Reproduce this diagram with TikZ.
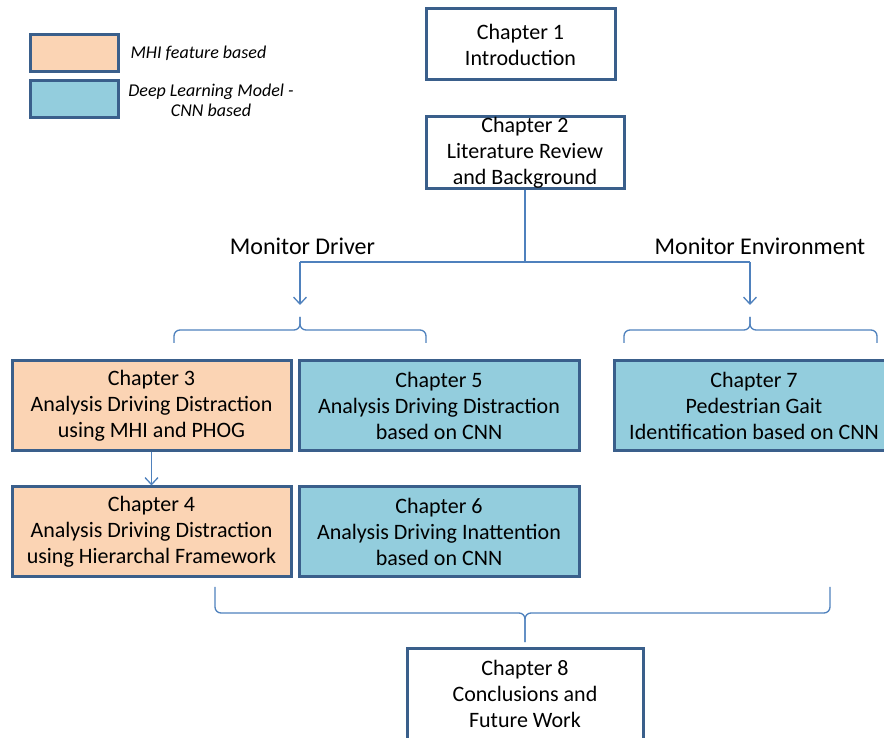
\documentclass[tikz,border=0pt]{standalone}
\usepackage{fontspec}
\setmainfont{Carlito}
\usetikzlibrary{arrows.meta}

\begin{document}
\begin{tikzpicture}[x=1pt,y=1pt,
  box/.style={draw=boxBorder, line width=3pt, inner xsep=2pt, inner ysep=0pt, align=center,
    minimum height=90, font=\fontsize{22}{26}\selectfont},
  mhi/.style={box, fill=colMHI, minimum width=279},
  cnn/.style={box, fill=colCNN, minimum width=280},
  legbox/.style={draw=boxBorder, line width=3pt, minimum width=88, minimum height=37},
  legtext/.style={font=\fontsize{18}{20}\selectfont\itshape, align=center},
  conn/.style={draw=lineBlue, line width=1.3pt},
  arr/.style={conn, -{Straight Barb[length=7pt,width=13pt]}},
  brc/.style={conn, rounded corners=6pt},
  lbl/.style={font=\fontsize{24}{26}\selectfont}
]

% Colori
\definecolor{colMHI}{HTML}{FBD4B4}
\definecolor{colCNN}{HTML}{93CDDD}
\definecolor{boxBorder}{HTML}{3A5F8B}
\definecolor{lineBlue}{HTML}{4F81BD}

% Area del disegno
\clip (0,0) rectangle (884,737);

% Legenda
\node[legbox, fill=colMHI] (legMHI) at (74,683.5) {};
\node[legbox, fill=colCNN] (legCNN) at (74,638) {};
\node[legtext, anchor=west] (txtMHI) at (127,684) {MHI feature based};
\node[legtext] (txtCNN) at (211,637) {Deep Learning Model -\\CNN based};

% Capitoli
\node[box, fill=white, minimum width=189, minimum height=71] (ch1) at (520.5,692.5) {Chapter 1\\Introduction};
\node[box, fill=white, minimum width=198, minimum height=72] (ch2) at (525,584) {Chapter 2\\Literature Review\\and Background};
\node[mhi] (ch3) at (151.5,331) {Chapter 3\\Analysis Driving Distraction\\using MHI and PHOG};
\node[cnn] (ch5) at (439,331) {Chapter 5\\Analysis Driving Distraction\\based on CNN};
\node[cnn] (ch7) at (754,331) {Chapter 7\\Pedestrian Gait\\Identification based on CNN};
\node[mhi] (ch4) at (151.5,205) {Chapter 4\\Analysis Driving Distraction\\using Hierarchal Framework};
\node[cnn] (ch6) at (439,205) {Chapter 6\\Analysis Driving Inattention\\based on CNN};
\node[box, fill=white, minimum width=236, minimum height=92] (ch8) at (525,43) {Chapter 8\\Conclusions and\\Future Work};

% Rami
\node[lbl] (monDrv) at (302.5,491) {Monitor Driver};
\node[lbl] (monEnv) at (760,491) {Monitor Environment};
\coordinate (jn) at (525,475);
\coordinate (jl) at (300,475);
\coordinate (jr) at (750,475);
\coordinate (tl) at (300,432);
\coordinate (tr) at (750,432);
\draw[conn] (ch2.south) -- (jn);
\draw[conn] (jl) -- (jr);
\draw[arr] (jl) -- (tl);
\draw[arr] (jr) -- (tr);
\draw[arr] (ch3) -- (ch4);

% Parentesi graffe
\draw[brc] (174,394) |- (300,407) -- (300,420);
\draw[brc] (426,394) |- (300,407) -- (300,420);
\draw[brc] (624,394) |- (750,407) -- (750,420);
\draw[brc] (877,394) |- (750,407) -- (750,420);
\draw[brc] (215,150) |- (525,124) -- (525,95);
\draw[brc] (830,150) |- (525,124) -- (525,95);

\end{tikzpicture}
\end{document}
